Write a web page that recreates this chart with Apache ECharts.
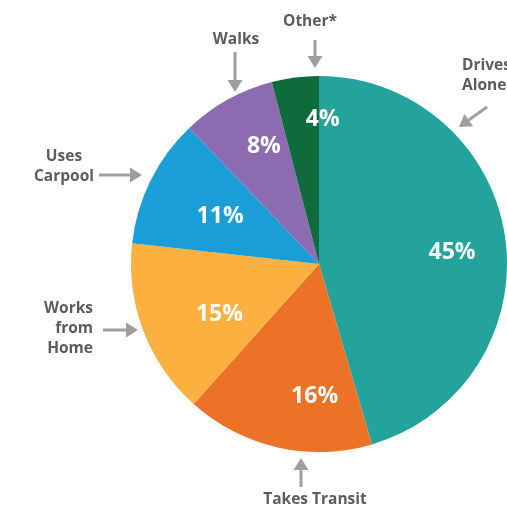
<!DOCTYPE html>
<html>
<head>
<meta charset="utf-8">
<script src="https://cdn.jsdelivr.net/npm/echarts@6/dist/echarts.min.js"></script>
<style>
  html, body { margin: 0; padding: 0; background: #fff; }
  #chart { width: 507px; height: 512px; }
</style>
</head>
<body>
<div id="chart"></div>
<script>
// Commute mode shares (percent)
const modes = ['Drives Alone', 'Takes Transit', 'Works from Home', 'Uses Carpool', 'Walks', 'Other*'];
const shares = [45, 16, 15, 11, 8, 4];
const sliceColors = ['#23A39B', '#EC7228', '#FBB040', '#1B9DD8', '#8D6BB1', '#0F6A3C'];

// Nudges for the in-slice percentage labels, [dx, dy] in px
const labelNudges = [[37, 2], [17, 38], [-9, 16], [-12, -4], [-8, -33], [16, -48]];

const arrowGray = '#A19F9D';
const textGray = '#5C5C5C';
const FONT = '"Open Sans", Lato, sans-serif';

// Callout arrow: shaft from (x1,y1) to tip at (x2,y2)
function arrow(x1, y1, x2, y2) {
  const ang = Math.atan2(y2 - y1, x2 - x1);
  const head = 12, half = 7.5;
  const bx = x2 - head * Math.cos(ang), by = y2 - head * Math.sin(ang);
  const px = -Math.sin(ang) * half, py = Math.cos(ang) * half;
  return [
    { type: 'line', shape: { x1: x1, y1: y1, x2: bx, y2: by },
      style: { stroke: arrowGray, lineWidth: 3 } },
    { type: 'polygon', shape: { points: [[x2, y2], [bx + px, by + py], [bx - px, by - py]] },
      style: { fill: arrowGray } }
  ];
}

function callout(x, y, text, align) {
  return {
    type: 'text', x: x, y: y,
    style: {
      text: text, fill: textGray, font: 'bold 15.5px ' + FONT,
      align: align || 'center', verticalAlign: 'middle', lineHeight: 20
    }
  };
}

const graphics = [
  callout(462, 76, 'Drives\nAlone', 'left'),
  callout(315, 500, 'Takes Transit'),
  callout(93, 329, 'Works\nfrom\nHome', 'right'),
  callout(64, 167, 'Uses\nCarpool'),
  callout(236, 40, 'Walks'),
  callout(310, 22, 'Other*')
]
  .concat(arrow(487, 107, 459, 127))
  .concat(arrow(301, 487, 301, 458))
  .concat(arrow(103, 330, 138, 330))
  .concat(arrow(99, 175, 142, 175))
  .concat(arrow(235, 52, 235, 92))
  .concat(arrow(315, 40, 315, 68));

const chart = echarts.init(document.getElementById('chart'), null, { renderer: 'canvas' });
chart.setOption({
  animation: false,
  backgroundColor: '#ffffff',
  graphic: graphics,
  series: [{
    type: 'pie',
    center: [319, 264],
    radius: [0, 188],
    startAngle: 90,
    clockwise: true,
    silent: true,
    data: modes.map((m, i) => ({
      name: m,
      value: shares[i],
      itemStyle: { color: sliceColors[i] }
    })),
    label: {
      show: true,
      position: 'inside',
      formatter: p => p.value + '%',
      color: '#ffffff',
      fontFamily: FONT,
      fontWeight: 'bold',
      fontSize: 23
    },
    labelLine: { show: false },
    labelLayout: p => ({ dx: labelNudges[p.dataIndex][0], dy: labelNudges[p.dataIndex][1] })
  }]
});
</script>
</body>
</html>
